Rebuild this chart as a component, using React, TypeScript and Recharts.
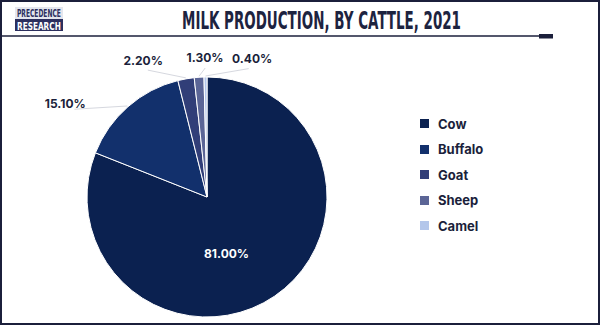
import { PieChart, Pie, Cell, Legend } from 'recharts';

const categories = ['Cow', 'Buffalo', 'Goat', 'Sheep', 'Camel'];
const shares = [81.0, 15.1, 2.2, 1.3, 0.4];
const colors = ['#0b2150', '#12306c', '#313e78', '#5b6596', '#b3c6ea'];

const data = categories.map((name, i) => ({ name, value: shares[i] }));

// label placement (angle in degrees, distance from centre) — small slices are fanned out
const labelPlace: Record<string, { angle: number; dist: number }> = {
  Cow: { angle: -71, dist: 60 },
  Buffalo: { angle: 146.5, dist: 170 },
  Goat: { angle: 115, dist: 151 },
  Sheep: { angle: 90.8, dist: 140 },
  Camel: { angle: 72, dist: 146 },
};

const RAD = Math.PI / 180;
const TEXT = '#1b1f3b';

function renderLabel(props: any) {
  const { cx, cy, midAngle, outerRadius, name, value } = props;
  const p = labelPlace[name];
  const lx = cx + p.dist * Math.cos(-p.angle * RAD);
  const ly = cy + p.dist * Math.sin(-p.angle * RAD);
  const txt = `${value.toFixed(2)}%`;
  if (name === 'Cow') {
    return (
      <text x={lx} y={ly} fill="#ffffff" fontSize={12} fontWeight="bold" textAnchor="middle" dominantBaseline="central" fontFamily="Inter, 'Open Sans', sans-serif">
        {txt}
      </text>
    );
  }
  const sx = cx + (outerRadius + 1) * Math.cos(-midAngle * RAD);
  const sy = cy + (outerRadius + 1) * Math.sin(-midAngle * RAD);
  const ed = p.dist - 11;
  const ex = cx + ed * Math.cos(-p.angle * RAD);
  const ey = cy + ed * Math.sin(-p.angle * RAD);
  return (
    <g>
      <line x1={sx} y1={sy} x2={ex} y2={ey} stroke="#d6d8df" strokeWidth={1} />
      <text x={lx} y={ly} fill={TEXT} fontSize={12} fontWeight="bold" textAnchor="middle" dominantBaseline="central" fontFamily="Inter, 'Open Sans', sans-serif">
        {txt}
      </text>
    </g>
  );
}

function LegendBox() {
  return (
    <div style={{ fontFamily: "Inter, 'Open Sans', sans-serif" }}>
      {categories.map((c, i) => (
        <div key={c} style={{ display: 'flex', alignItems: 'center', height: 25.5 }}>
          <span style={{ width: 9, height: 9, background: colors[i], display: 'inline-block', marginRight: 9 }} />
          <span style={{ fontSize: 13, fontWeight: 700, color: TEXT }}>{c}</span>
        </div>
      ))}
    </div>
  );
}

export default function App() {
  return (
    <div style={{ position: 'absolute', left: 0, top: 0, width: 600, height: 325, boxSizing: 'border-box', border: '2px solid #1b1f3b', background: '#fff', overflow: 'hidden' }}>
      <svg width={600} height={45} style={{ position: 'absolute', left: -2, top: -2 }}>
        <rect x={15} y={7} width={48} height={12} fill="#e4e6ee" />
        <rect x={15} y={19} width={48} height={12} fill="#2c2f5e" />
        <text transform="translate(17,17) scale(0.6,1)" fontSize={11} fontWeight="bold" fill="#2c2f5e" fontFamily="'DejaVu Sans'" textLength={73} lengthAdjust="spacingAndGlyphs">PRECEDENCE</text>
        <text transform="translate(17,29.5) scale(0.6,1)" fontSize={11} fontWeight="bold" fill="#ffffff" fontFamily="'DejaVu Sans'" textLength={73} lengthAdjust="spacingAndGlyphs">RESEARCH</text>
        <text transform="translate(182,28.5) scale(0.58,1)" fontSize={24} fontWeight="bold" fill="#1d2340" fontFamily="'DejaVu Sans'" textLength={481} lengthAdjust="spacingAndGlyphs">MILK PRODUCTION, BY CATTLE, 2021</text>
        <line x1={0} y1={36} x2={540} y2={36} stroke="#1b1f3b" strokeWidth={1.5} />
        <rect x={539} y={34} width={14} height={4.5} fill="#1b1f3b" />
      </svg>
      <div style={{ position: 'absolute', left: -2, top: -2 }}>
        <PieChart width={600} height={325} margin={{ top: 0, right: 0, bottom: 0, left: 0 }}>
          <Pie
            data={data}
            dataKey="value"
            nameKey="name"
            cx={207}
            cy={197}
            outerRadius={120}
            startAngle={90}
            endAngle={-270}
            stroke="#ffffff"
            strokeWidth={1}
            label={renderLabel}
            labelLine={false}
            isAnimationActive={false}
          >
            {data.map((d, i) => (
              <Cell key={d.name} fill={colors[i]} />
            ))}
          </Pie>
          <Legend
            layout="vertical"
            content={<LegendBox />}
            wrapperStyle={{ left: 420, top: 111, width: 120 }}
          />
        </PieChart>
      </div>
    </div>
  );
}
